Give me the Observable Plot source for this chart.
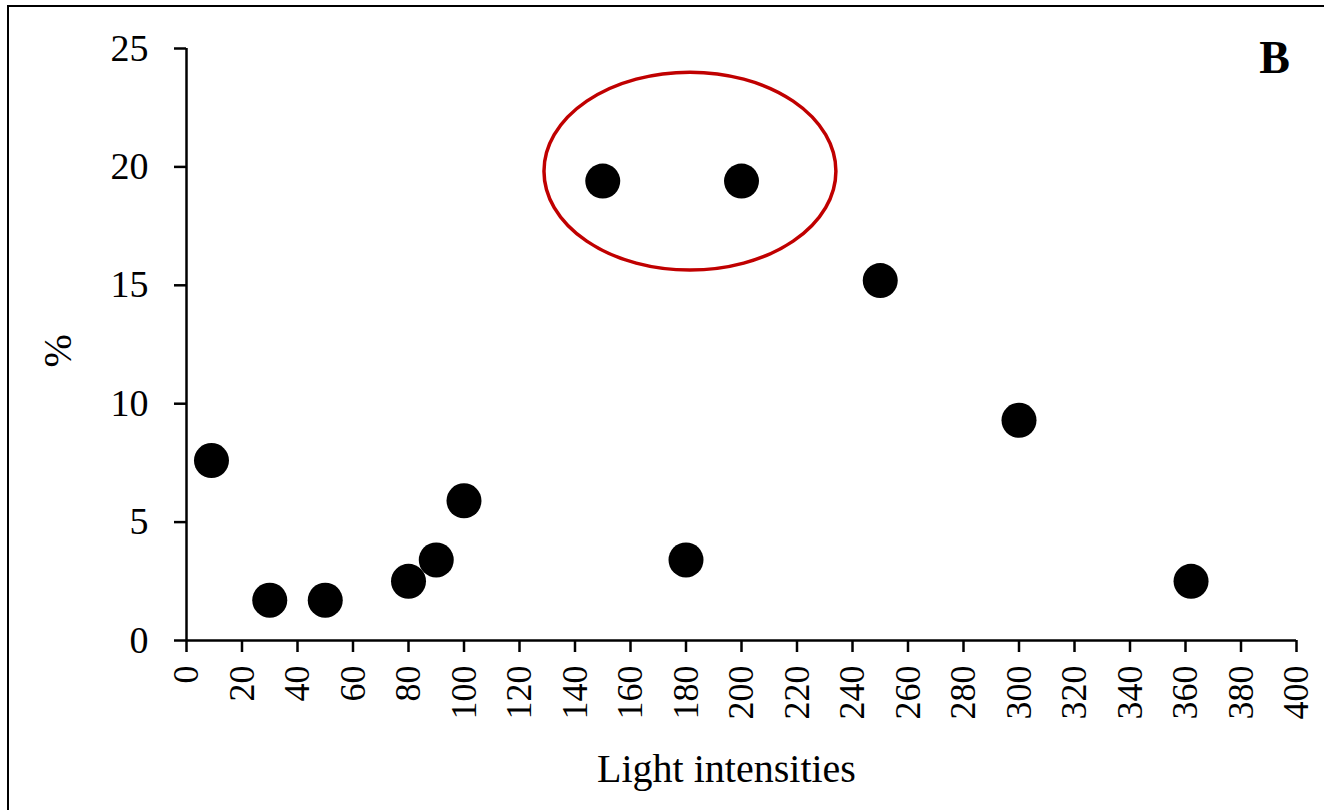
<!DOCTYPE html>
<html>
<head>
<meta charset="utf-8">
<script src="https://cdn.jsdelivr.net/npm/d3@7"></script>
<script src="https://cdn.jsdelivr.net/npm/@observablehq/plot@0.6"></script>
<style>
  html, body { margin: 0; padding: 0; background: #fff; }
  #wrap { position: relative; width: 1324px; height: 810px; overflow: hidden; }
  #frame { position: absolute; left: 7px; top: 5px; width: 1330px; height: 820px;
           border-left: 2px solid #000; border-top: 2px solid #000; pointer-events: none; }
</style>
</head>
<body>
<div id="wrap"><div id="frame"></div></div>
<script>
// ---- data ----
const intensities = [9, 30, 50, 80, 90, 100, 150, 180, 200, 250, 300, 362];
const percents    = [7.6, 1.7, 1.7, 2.5, 3.4, 5.9, 19.4, 3.4, 19.4, 15.2, 9.3, 2.5];
const xTicks = [0, 20, 40, 60, 80, 100, 120, 140, 160, 180, 200, 220, 240, 260, 280, 300, 320, 340, 360, 380, 400];
const yTicks = [0, 5, 10, 15, 20, 25];
const xTitle = "Light intensities";
const yTitle = "%";
const panelLabel = "B";
// highlight ellipse (data units): centre and radii
const ellipseCenter = [181.6, 19.8];
const ellipseRadii = [52.6, 4.18];

const points = intensities.map((x, i) => ({x, y: percents[i]}));

const ellipseMark = (index, scales) => {
  const {x, y} = scales;
  const g = d3.create("svg:g");
  const cx = x(ellipseCenter[0]), cy = y(ellipseCenter[1]);
  g.append("ellipse")
    .attr("cx", cx).attr("cy", cy)
    .attr("rx", Math.abs(x(ellipseCenter[0] + ellipseRadii[0]) - cx))
    .attr("ry", Math.abs(y(ellipseCenter[1] + ellipseRadii[1]) - cy))
    .attr("fill", "none").attr("stroke", "#C00000").attr("stroke-width", 3.5);
  return g.node();
};

const chart = Plot.plot({
  width: 1324,
  height: 810,
  marginLeft: 186,
  marginRight: 28,
  marginTop: 48,
  marginBottom: 170,
  style: {fontFamily: "'Liberation Serif', 'Times New Roman', serif", color: "#000", background: "transparent"},
  x: {domain: [0, 400]},
  y: {domain: [0, 25]},
  marks: [
    Plot.axisX({ticks: xTicks, tickSize: 12, tickPadding: 13, tickRotate: -90, fontSize: 36, strokeWidth: 2.5, label: null}),
    Plot.axisY({ticks: yTicks, tickSize: 12, tickPadding: 26, fontSize: 38, strokeWidth: 2.5, label: null}),
    Plot.ruleX([0], {stroke: "#000", strokeWidth: 2.5}),
    Plot.ruleY([0], {stroke: "#000", strokeWidth: 2.5}),
    Plot.dot(points, {x: "x", y: "y", r: 17.5, fill: "#000", stroke: null}),
    ellipseMark,
    Plot.text([xTitle], {frameAnchor: "bottom", text: d => d, fontSize: 40, dx: -15, dy: 129, lineAnchor: "middle"}),
    Plot.text([yTitle], {frameAnchor: "left", text: d => d, fontSize: 40, rotate: -90, dx: -128, dy: 23, lineAnchor: "middle"}),
    Plot.text([panelLabel], {frameAnchor: "top-right", text: d => d, fontSize: 46, fontWeight: "bold", dx: -22, dy: 10, lineAnchor: "middle", textAnchor: "middle"})
  ]
});
document.getElementById("wrap").prepend(chart);
</script>
</body>
</html>
